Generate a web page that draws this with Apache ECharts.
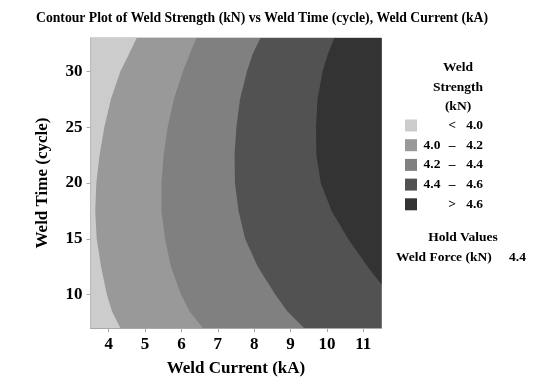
<!DOCTYPE html>
<html>
<head>
<meta charset="utf-8">
<script src="https://cdn.jsdelivr.net/npm/echarts@6/dist/echarts.min.js"></script>
<style>html,body{margin:0;padding:0;background:#fff}#c{width:536px;height:382px}</style>
</head>
<body>
<div id="c"></div>
<script>
// ---- data ----
const xTicks = [4, 5, 6, 7, 8, 9, 10, 11];          // Weld Current (kA)
const yTicks = [10, 15, 20, 25, 30];                // Weld Time (cycle)
// sampled Weld Time values along the contour lines
const weldTime = [33, 31.5, 30, 27.5, 25, 22.5, 20, 17.5, 15, 12.5, 10, 8.5, 7];
// Weld Current where strength crosses each level
const contour40 = [4.77, 4.55, 4.32, 4.06, 3.88, 3.75, 3.66, 3.63, 3.67, 3.79, 3.95, 4.09, 4.32];
const contour42 = [6.41, 6.22, 6.04, 5.79, 5.62, 5.51, 5.45, 5.45, 5.55, 5.71, 5.99, 6.22, 6.59];
const contour44 = [8.17, 7.95, 7.80, 7.61, 7.51, 7.46, 7.47, 7.57, 7.75, 8.10, 8.58, 8.91, 9.37];
const weldTime46 = [33, 31.5, 30, 27.5, 25, 22.5, 20, 17.5, 15, 12.5, 10.9];
const contour46 = [10.20, 10.02, 9.88, 9.74, 9.70, 9.71, 9.83, 10.13, 10.58, 11.12, 11.5];
// legend labels
const legendLow  = ['', '4.0', '4.2', '4.4', ''];
const legendSep  = ['<', '–', '–', '–', '>'];
const legendHigh = ['4.0', '4.2', '4.4', '4.6', '4.6'];
const bandColors = ['#cccccc', '#999999', '#808080', '#525252', '#333333'];
const holdName = 'Weld Force (kN)';
const holdValue = '4.4';

const X_MIN = 3.5, X_MAX = 11.5, Y_MIN = 7, Y_MAX = 33;
const FONT = 'Liberation Serif';

const bandNames = legendLow.map((l, i) => (l ? l + ' ' : '') + legendSep[i] + ' ' + legendHigh[i]);

const bandBounds = [
  { xs: [X_MIN, X_MIN], ys: [Y_MAX, Y_MIN] },
  { xs: contour40, ys: weldTime },
  { xs: contour42, ys: weldTime },
  { xs: contour44, ys: weldTime },
  { xs: contour46, ys: weldTime46 }
];

function bandSeries(i) {
  const b = bandBounds[i];
  return {
    type: 'custom',
    name: bandNames[i],
    coordinateSystem: 'cartesian2d',
    silent: true,
    animation: false,
    itemStyle: { color: bandColors[i] },
    encode: { x: 0, y: 1 },
    data: b.xs.map((x, k) => [x, b.ys[k]]),
    renderItem: function (params, api) {
      if (params.dataIndex !== 0) return null;
      const pts = b.xs.map((x, k) => api.coord([x, b.ys[k]]));
      pts.push(api.coord([X_MAX, b.ys[b.ys.length - 1]]));
      pts.push(api.coord([X_MAX, b.ys[0]]));
      return { type: 'polygon', shape: { points: pts }, style: { fill: bandColors[i], stroke: null } };
    }
  };
}

const txt = { fontFamily: FONT, fontWeight: 'bold', color: '#000' };
const chart = echarts.init(document.getElementById('c'), null, { renderer: 'canvas' });
chart.setOption({
  animation: false,
  backgroundColor: '#fff',
  title: {
    text: 'Contour Plot of Weld Strength (kN) vs Weld Time (cycle), Weld Current (kA)',
    left: 36, top: 11, padding: 0,
    textStyle: Object.assign({}, txt, { fontSize: 13.7 })
  },
  grid: {
    left: 90.5, top: 38, right: 154.5, bottom: 52,
    show: true, borderColor: '#a8a8a8', borderWidth: 1, backgroundColor: 'transparent'
  },
  xAxis: {
    type: 'value', min: X_MIN, max: X_MAX,
    name: 'Weld Current (kA)', nameLocation: 'middle', nameGap: 32,
    nameTextStyle: Object.assign({}, txt, { fontSize: 17 }),
    splitLine: { show: false },
    axisLine: { show: true, lineStyle: { color: '#a8a8a8' } },
    axisTick: { show: true, length: 4, lineStyle: { color: '#a8a8a8' }, customValues: xTicks },
    axisLabel: Object.assign({}, txt, { fontSize: 17, margin: 8, customValues: xTicks })
  },
  yAxis: {
    type: 'value', min: Y_MIN, max: Y_MAX,
    name: 'Weld Time (cycle)', nameLocation: 'middle', nameGap: 39,
    nameTextStyle: Object.assign({}, txt, { fontSize: 17 }),
    splitLine: { show: false },
    axisLine: { show: true, lineStyle: { color: '#a8a8a8' } },
    axisTick: { show: true, length: 4, lineStyle: { color: '#a8a8a8' }, customValues: yTicks },
    axisLabel: Object.assign({}, txt, { fontSize: 17, margin: 8, customValues: yTicks })
  },
  legend: {
    orient: 'vertical', left: 405, top: 118.5, padding: 0,
    itemWidth: 12, itemHeight: 12, itemGap: 5.7, icon: 'rect',
    selectedMode: false,
    data: bandNames,
    formatter: function (name) {
      const i = bandNames.indexOf(name);
      return '{a|' + legendLow[i] + '}{b|' + legendSep[i] + '}{c|' + legendHigh[i] + '}';
    },
    textStyle: Object.assign({}, txt, {
      fontSize: 13.5,
      rich: {
        a: Object.assign({}, txt, { fontSize: 13.5, width: 20, align: 'right', lineHeight: 12 }),
        b: Object.assign({}, txt, { fontSize: 13.5, width: 20, align: 'center', lineHeight: 12 }),
        c: Object.assign({}, txt, { fontSize: 13.5, width: 21, align: 'right', lineHeight: 12 })
      }
    })
  },
  graphic: [
    { type: 'text', x: 458, y: 58, style: { text: 'Weld\nStrength\n(kN)', fontSize: 13.5, lineHeight: 19.5, textAlign: 'center', fill: '#000', fontFamily: FONT, fontWeight: 'bold' } },
    { type: 'text', x: 463, y: 231, style: { text: 'Hold Values', fontSize: 13.5, textAlign: 'center', fill: '#000', fontFamily: FONT, fontWeight: 'bold' } },
    { type: 'text', x: 396, y: 251, style: { text: holdName, fontSize: 13.5, fill: '#000', fontFamily: FONT, fontWeight: 'bold' } },
    { type: 'text', x: 509, y: 251, style: { text: holdValue, fontSize: 13.5, fill: '#000', fontFamily: FONT, fontWeight: 'bold' } }
  ],
  series: bandBounds.map((b, i) => bandSeries(i))
});
</script>
</body>
</html>
